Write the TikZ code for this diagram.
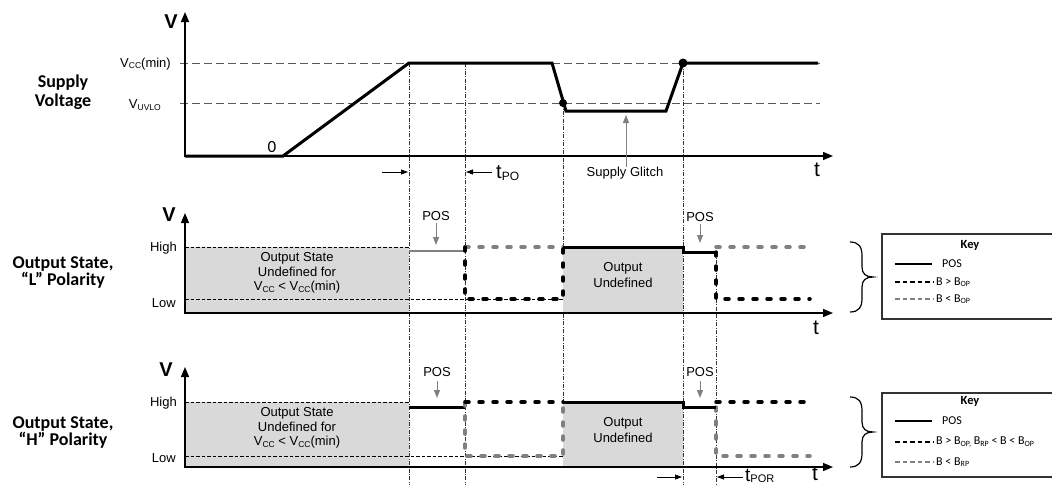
\documentclass[tikz,border=0pt]{standalone}
\usepackage{fontspec}
\setmainfont{Liberation Sans}
\newfontfamily\calib{Carlito}
\usetikzlibrary{arrows.meta}
\newcommand{\lsub}[2][8.5]{\raisebox{-1.5pt}{\fontsize{#1}{#1}\selectfont #2}}
\begin{document}
\begin{tikzpicture}[x=1pt,y=-1pt,
  tri/.tip={Triangle[length=10pt,width=8pt]},
  axes/.style={line width=1.4pt,tri-tri},
  guide/.style={line width=0.6pt,black!80,dash pattern=on 4pt off 1.5pt on 0.8pt off 1.5pt},
  lvl/.style={line width=0.6pt,dash pattern=on 3.5pt off 2pt},
  supdash/.style={line width=0.9pt,black!65,dash pattern=on 8pt off 4pt},
  sig/.style={line width=3pt},
  gsig/.style={line width=2pt,black!50},
  tdash/.style={line width=3.5pt,dash pattern=on 4pt off 10pt,line cap=round},
  gbox/.style={fill=black!15},
  lab/.style={font=\fontsize{13}{14.5}\selectfont,inner sep=0pt,align=center},
  side/.style={font=\calib\bfseries\fontsize{18}{19}\selectfont,inner sep=0pt,align=center},
  vlab/.style={font=\bfseries\fontsize{20}{20}\selectfont,inner sep=0pt},
  tlab/.style={font=\fontsize{21}{21}\selectfont,inner sep=0pt},
  garr/.style={black!50,line width=1pt,-{Triangle[length=8pt,width=6pt]}},
  tarr/.style={line width=0.8pt,-{Triangle[length=7pt,width=5pt]}},
  keyt/.style={font=\calib\fontsize{12}{14}\selectfont,inner sep=0pt,anchor=west},
  keyh/.style={font=\calib\bfseries\fontsize{12.5}{14}\selectfont,inner sep=0pt},
  keysolid/.style={line width=2.6pt},
  keydash/.style={line width=2.5pt,dash pattern=on 4.5pt off 3pt},
  keybox/.style={line width=1.2pt,black!80},
  brace/.style={line width=1.2pt}
  ]
\useasboundingbox (0,0) rectangle (1052,485);
\clip (0,0) rectangle (1052,485);

% ================= Supply voltage =================
\node[side] (sv) at (63,92) {Supply\\Voltage};
\draw[supdash] (180,63) -- (820,63);
\draw[supdash] (180,103) -- (820,103);
\node[lab,anchor=east] (vcc) at (171,64) {V\lsub{CC}(min)};
\node[lab,anchor=east] (vuv) at (161,105) {V\lsub{UVLO}};
\node[vlab] (v1) at (171,22) {V};
\node[font=\calib\fontsize{17}{17}\selectfont,inner sep=0pt] (zero) at (272,147) {0};
\node[tlab] (t1) at (817,170) {t};

% guides
\draw[guide] (409,63) -- (409,485);
\draw[guide] (465,63) -- (465,485);
\draw[guide] (563,103) -- (563,467);
\draw[guide] (683,63) -- (683,485);
\draw[guide] (716,252) -- (716,485);

\draw[axes] (185,12) -- (185,156) -- (833,156);
\draw[sig,line join=miter] (185,156) -- (283,156) -- (409,63) -- (552,63) -- (566,111) -- (666,111) -- (683,63) -- (818,63);
\fill (563,103) circle (4pt);
\fill (683,63) circle (4.5pt);

\node[lab] (sg) at (625,173) {Supply Glitch};
\coordinate (sgt) at (626,115);
\draw[garr] (sg.north -| sgt) -- (sgt);

\coordinate (p1a) at (382,172); \coordinate (p1b) at (408,172);
\coordinate (p2a) at (492,172); \coordinate (p2b) at (466,172);
\draw[tarr] (p1a) -- (p1b);
\draw[tarr] (p2a) -- (p2b);
\node[anchor=west,inner sep=0pt] (tpo) at (496,173) {\fontsize{20}{20}\selectfont t\lsub[12]{PO}};

% ================= L polarity =================
\node[side,font=\calib\bfseries\fontsize{18}{17}\selectfont] (lp) at (63,273) {Output State,\\“L” Polarity};
\fill[gbox] (185,247) rectangle (409,313);
\fill[gbox] (563,247) rectangle (683,313);
\draw[lvl] (185,247) -- (409,247);
\draw[lvl] (185,299) -- (563,299);
\draw[axes] (185,213) -- (185,313) -- (833,313);
\node[vlab] (v2) at (169,215) {V};
\node[lab,anchor=east] (hi1) at (177,248) {High};
\node[lab,anchor=east] (lo1) at (176,303) {Low};
\node[lab] (u1) at (297,273) {Output State\\Undefined for\\V\lsub{CC} < V\lsub{CC}(min)};
\node[lab,font=\fontsize{13}{16}\selectfont] (o1) at (623,275) {Output\\Undefined};

\draw[gsig] (409,251) -- (465,251);
\draw[tdash,black!50] (465,247) -- (563,247);
\draw[tdash,black!50] (716,247) -- (810,247);
\draw[tdash] (465,247) -- (465,299) -- (563,299) -- (563,247);
\draw[sig] (563,247) -- (683,247) -- (683,252) -- (716,252);
\draw[tdash] (716,252) -- (716,299) -- (810,299);

\node[lab] (pos1) at (436,216) {POS};
\coordinate (pos1t) at (436,245);
\draw[garr] (pos1.south |- 0,223) -- (pos1t);
\node[lab] (pos2) at (700,217) {POS};
\coordinate (pos2t) at (700,243);
\draw[garr] (pos2.south |- 0,224) -- (pos2t);
\node[tlab] (t2) at (816,328) {t};

% ================= H polarity =================
\node[side,font=\calib\bfseries\fontsize{18}{17}\selectfont] (hp) at (63,433) {Output State,\\“H” Polarity};
\fill[gbox] (185,402) rectangle (409,467);
\fill[gbox] (563,402) rectangle (683,467);
\draw[lvl] (185,402) -- (409,402);
\draw[lvl] (185,456) -- (563,456);
\draw[axes] (185,367) -- (185,467) -- (833,467);
\node[vlab] (v3) at (166,370) {V};
\node[lab,anchor=east] (hi2) at (177,403) {High};
\node[lab,anchor=east] (lo2) at (176,458) {Low};
\node[lab] (u2) at (297,428) {Output State\\Undefined for\\V\lsub{CC} < V\lsub{CC}(min)};
\node[lab,font=\fontsize{13}{16}\selectfont] (o2) at (623,430) {Output\\Undefined};

\draw[sig] (409,407) -- (465,407);
\draw[tdash,black!50] (465,402) -- (465,456) -- (563,456) -- (563,402);
\draw[tdash,black!50] (716,407) -- (716,456) -- (810,456);
\draw[tdash] (465,402) -- (563,402);
\draw[tdash] (716,402) -- (810,402);
\draw[sig] (563,402) -- (683,402) -- (683,407) -- (716,407);

\node[lab] (pos3) at (437,372) {POS};
\coordinate (pos3t) at (437,398);
\draw[garr] (pos3.south |- 0,381) -- (pos3t);
\node[lab] (pos4) at (700,372) {POS};
\coordinate (pos4t) at (700,398);
\draw[garr] (pos4.south |- 0,381) -- (pos4t);

\coordinate (r1a) at (657,477); \coordinate (r1b) at (682,477);
\coordinate (r2a) at (743,477); \coordinate (r2b) at (717,477);
\draw[tarr] (r1a) -- (r1b);
\draw[tarr] (r2a) -- (r2b);
\node[anchor=west,inner sep=0pt] (tpor) at (745,476) {\fontsize{19}{19}\selectfont t\lsub[11]{POR}};
\node[tlab] (t3) at (815,474) {t};

% ================= Keys =================
\draw[brace] (850,242) .. controls (859,242) and (862,247) .. (862,256) -- (862,267)
  .. controls (862,274) and (866,277) .. (873,277)
  .. controls (866,277) and (862,280) .. (862,287) -- (862,298)
  .. controls (862,307) and (859,312) .. (850,312);
\draw[keybox] (1060,234) -- (882,234) -- (882,319) -- (1060,319);
\node[keyh] (k1) at (970,245) {Key};
\draw[keysolid] (895,264) -- (932,264);
\node[keyt] (k1a) at (942,264) {POS};
\draw[keydash] (895,282) -- (933,282);
\node[keyt] (k1b) at (936,282) {B > B\lsub[8]{OP}};
\draw[keydash,black!50] (895,299) -- (933,299);
\node[keyt] (k1c) at (936,299) {B < B\lsub[8]{OP}};

\draw[brace] (850,397) .. controls (859,397) and (862,402) .. (862,411) -- (862,422)
  .. controls (862,429) and (866,432) .. (873,432)
  .. controls (866,432) and (862,435) .. (862,442) -- (862,453)
  .. controls (862,462) and (859,467) .. (850,467);
\draw[keybox] (1060,393) -- (882,393) -- (882,477) -- (1060,477);
\node[keyh] (k2) at (970,401) {Key};
\draw[keysolid] (895,421) -- (932,421);
\node[keyt] (k2a) at (942,421) {POS};
\draw[keydash] (895,442) -- (933,442);
\node[keyt] (k2b) at (936,442) {B > B\lsub[8]{OP,} B\lsub[8]{RP} < B < B\lsub[8]{OP}};
\draw[keydash,black!50] (895,462) -- (933,462);
\node[keyt] (k2c) at (936,462) {B < B\lsub[8]{RP}};
\end{tikzpicture}
\end{document}
